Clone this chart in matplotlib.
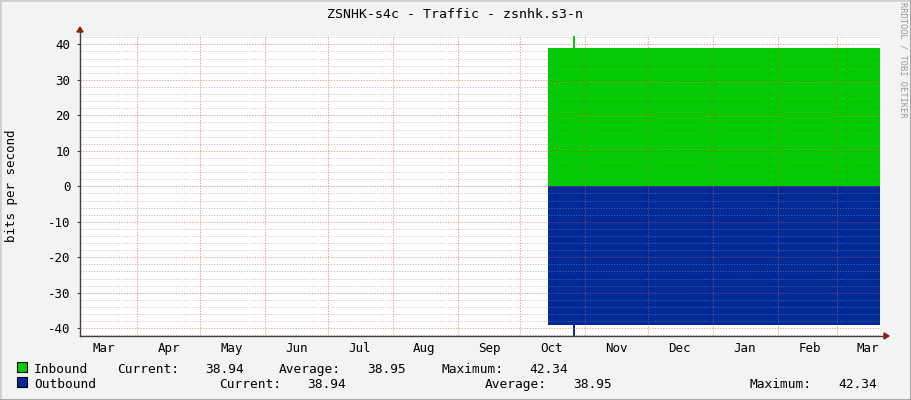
import numpy as np
import pandas as pd
import matplotlib
matplotlib.use('Agg')
import matplotlib.pyplot as plt

#%% data

in_time = ['2022-10-14 00:00', '2022-10-26 06:00', '2022-10-26 20:00', '2023-03-21 17:00']
in_bits = [38.94, 42.34, 38.95, 38.94]
out_time = ['2022-10-14 00:00', '2022-10-26 06:00', '2022-10-26 20:00', '2023-03-21 17:00']
out_bits = [-38.94, -42.34, -38.95, -38.94]

month_names = ['Mar', 'Apr', 'May', 'Jun', 'Jul', 'Aug', 'Sep',
               'Oct', 'Nov', 'Dec', 'Jan', 'Feb', 'Mar']
month_starts = pd.date_range('2022-03-01', '2023-03-01', freq='MS')

legend_rows = [
    ('Inbound', '#00CC00', [('Current:', 117), ('38.94', 205), ('Average:', 279),
                            ('38.95', 367), ('Maximum:', 441), ('42.34', 529)]),
    ('Outbound', '#002A97', [('Current:', 219), ('38.94', 307), ('Average:', 485),
                             ('38.95', 573), ('Maximum:', 750), ('42.34', 838)]),
]

title = 'ZSNHK-s4c - Traffic - zsnhk.s3-n'

#%% figure

W, H = 911, 400
mono = 'DejaVu Sans Mono'
fig = plt.figure(figsize=(W / 100, H / 100), dpi=100, facecolor='#F3F3F3')

x0, x1, y0, y1 = 80, 880, 36, 336   # plot area in pixels
ax = fig.add_axes([x0 / W, 1 - y1 / H, (x1 - x0) / W, (y1 - y0) / H])
ax.set_facecolor('white')

t_in = pd.to_datetime(in_time)
t_out = pd.to_datetime(out_time)
ax.fill_between(t_in, 0, in_bits, step='post', color='#00CC00', lw=0, zorder=1)
ax.fill_between(t_out, 0, out_bits, step='post', color='#002A97', lw=0, zorder=1)

ax.set_xlim(pd.Timestamp('2022-03-04 15:20'), pd.Timestamp('2023-03-21 17:00'))
ax.set_ylim(-42.17, 42.34)

# grid on top of the data, the way rrdtool does it
dots = (0, (1.4, 1.4))
for v in np.arange(-42, 43, 2):
    if v % 10 == 0:
        continue
    ax.axhline(v, color='#8F8F8F', alpha=0.45, lw=0.7, ls=dots, zorder=3)
for v in np.arange(-40, 41, 10):
    ax.axhline(v, color='#DE5050', alpha=0.55, lw=0.7, ls=dots, zorder=3)
for d in month_starts[1:]:
    ax.axvline(d, color='#DE5050', alpha=0.55, lw=0.7, ls=dots, zorder=3)

ax.set_yticks(np.arange(-40, 41, 10))
ax.set_yticklabels([str(v) for v in range(-40, 41, 10)], family=mono, fontsize=9)
ax.tick_params(axis='y', length=2, color='#404040', pad=5)

label_days = [d + pd.Timedelta(days=15) for d in month_starts]
ax.set_xticks(label_days)
ax.set_xticklabels(month_names, family=mono, fontsize=9)
ax.tick_params(axis='x', length=0, pad=4)

for s in ax.spines.values():
    s.set_visible(False)

# axes with arrow heads
fig.lines.append(plt.Line2D([x0 / W, x0 / W], [1 - y1 / H, 1 - (y0 - 4) / H],
                            transform=fig.transFigure, color='#404040', lw=1))
fig.lines.append(plt.Line2D([x0 / W, (x1 + 4) / W], [1 - y1 / H, 1 - y1 / H],
                            transform=fig.transFigure, color='#404040', lw=1))
fig.patches.append(plt.Polygon([[(x0 - 3) / W, 1 - (y0 - 4) / H], [(x0 + 3) / W, 1 - (y0 - 4) / H],
                                [x0 / W, 1 - (y0 - 9) / H]], closed=True, color='#8B1A1A',
                               transform=fig.transFigure))
fig.patches.append(plt.Polygon([[(x1 + 4) / W, 1 - (y1 - 3) / H], [(x1 + 4) / W, 1 - (y1 + 3) / H],
                                [(x1 + 9) / W, 1 - y1 / H]], closed=True, color='#8B1A1A',
                               transform=fig.transFigure))

#%% texts

fig.text(455 / W, 1 - 14 / H, title, ha='center', va='center', family=mono, fontsize=9.5)
fig.text(12 / W, 1 - 186 / H, 'bits per second', rotation=90, ha='center', va='center',
         family=mono, fontsize=9)
fig.text(903 / W, 1 - 60 / H, 'RRDTOOL / TOBI OETIKER', rotation=270, ha='center', va='center',
         family=mono, fontsize=6.3, color='#999999')

for i, (name, col, items) in enumerate(legend_rows):
    yy = 373 + 15 * i
    fig.patches.append(plt.Rectangle((17 / W, 1 - (yy - 1) / H), 10 / W, 10 / H,
                                     facecolor=col, edgecolor='black', lw=0.8,
                                     transform=fig.transFigure))
    fig.text(34 / W, 1 - yy / H, name, ha='left', va='baseline', family=mono, fontsize=9.3)
    for txt, px in items:
        fig.text(px / W, 1 - yy / H, txt, ha='left', va='baseline', family=mono, fontsize=9.3)

# 3d frame around the picture
fig.lines.append(plt.Line2D([0, 0, 1], [0, 1, 1], transform=fig.transFigure,
                            color='#CFCFCF', lw=2))
fig.lines.append(plt.Line2D([0, 1, 1], [0, 0, 1], transform=fig.transFigure,
                            color='#9E9E9E', lw=2))

fig.savefig('out.png', dpi=100, facecolor=fig.get_facecolor())
